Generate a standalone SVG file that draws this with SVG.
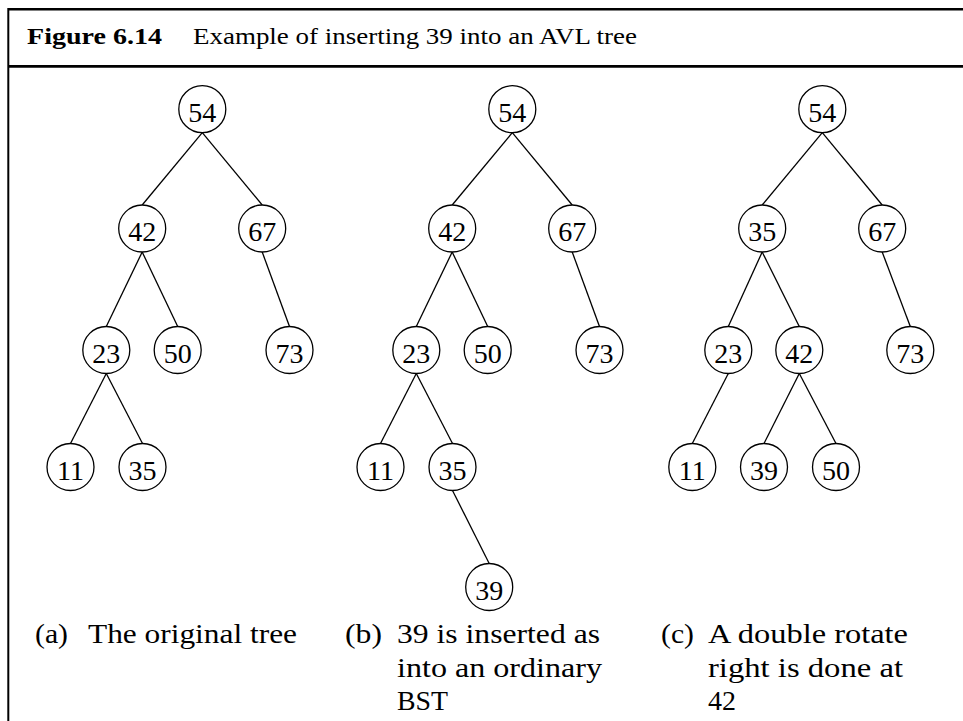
<svg xmlns="http://www.w3.org/2000/svg" width="963" height="721" viewBox="0 0 963 721" font-family="'Liberation Serif', 'Times New Roman', Times, serif">
  <style>
    .frame { stroke: #000; fill: none; }
    .node circle { fill: #fff; stroke: #000; stroke-width: 1.3; }
    .node text { font-size: 28px; text-anchor: middle; fill: #000; }
    .edges line { stroke: #000; stroke-width: 1.3; }
    .title { font-size: 24px; fill: #000; }
    .title-b { font-weight: bold; }
    .cap { font-size: 28px; fill: #000; }
  </style>

  <!-- figure frame: top rule, rule under the title, left side -->
  <g id="frame">
    <line class="frame" x1="8.3" y1="9.3" x2="963" y2="9.3" stroke-width="2.4"/>
    <line class="frame" x1="8.3" y1="66.3" x2="963" y2="66.3" stroke-width="2.7"/>
    <line class="frame" x1="8.3" y1="8.1" x2="8.3" y2="721" stroke-width="2"/>
  </g>

  <g id="title" font-family="'Liberation Serif', 'Times New Roman', Times, serif">
    <text class="title title-b" x="27" y="44" textLength="135" lengthAdjust="spacingAndGlyphs" font-family="Liberation Serif">Figure 6.14</text>
    <text class="title" x="193" y="44" textLength="444" lengthAdjust="spacingAndGlyphs" font-family="Liberation Serif">Example of inserting 39 into an AVL tree</text>
  </g>

  <!-- connectors: parent bottom to child top, r = 23.5 -->
  <g id="edges" class="edges">
    <!-- tree (a) -->
    <line x1="202.3" y1="132.7" x2="142.2" y2="205"/>
    <line x1="202.3" y1="132.7" x2="262.2" y2="205"/>
    <line x1="142.2" y1="252" x2="106.3" y2="326.5"/>
    <line x1="142.2" y1="252" x2="177.7" y2="326.5"/>
    <line x1="262.2" y1="252" x2="289.5" y2="326.5"/>
    <line x1="106.3" y1="373.5" x2="70.5" y2="443.5"/>
    <line x1="106.3" y1="373.5" x2="142.5" y2="443.5"/>
    <!-- tree (b) -->
    <line x1="512.3" y1="132.7" x2="452.2" y2="205"/>
    <line x1="512.3" y1="132.7" x2="572.2" y2="205"/>
    <line x1="452.2" y1="252" x2="416.3" y2="326.5"/>
    <line x1="452.2" y1="252" x2="487.7" y2="326.5"/>
    <line x1="572.2" y1="252" x2="599.5" y2="326.5"/>
    <line x1="416.3" y1="373.5" x2="380.5" y2="443.5"/>
    <line x1="416.3" y1="373.5" x2="452.5" y2="443.5"/>
    <line x1="452.5" y1="490.5" x2="489.2" y2="563.5"/>
    <!-- tree (c) -->
    <line x1="822.3" y1="132.7" x2="762.2" y2="205"/>
    <line x1="822.3" y1="132.7" x2="882.2" y2="205"/>
    <line x1="762.2" y1="252" x2="728.3" y2="326.5"/>
    <line x1="762.2" y1="252" x2="799.3" y2="326.5"/>
    <line x1="882.2" y1="252" x2="910.3" y2="326.5"/>
    <line x1="728.3" y1="373.5" x2="692.3" y2="443.5"/>
    <line x1="799.3" y1="373.5" x2="764" y2="443.5"/>
    <line x1="799.3" y1="373.5" x2="836" y2="443.5"/>
  </g>

  <!-- tree (a) -->
  <g id="a54" class="node"><circle cx="202.3" cy="109.2" r="23.5"/><text x="202.3" y="121.7">54</text></g>
  <g id="a42" class="node"><circle cx="142.2" cy="228.5" r="23.5"/><text x="142.2" y="241">42</text></g>
  <g id="a67" class="node"><circle cx="262.2" cy="228.5" r="23.5"/><text x="262.2" y="241">67</text></g>
  <g id="a23" class="node"><circle cx="106.3" cy="350" r="23.5"/><text x="106.3" y="362.5">23</text></g>
  <g id="a50" class="node"><circle cx="177.7" cy="350" r="23.5"/><text x="177.7" y="362.5">50</text></g>
  <g id="a73" class="node"><circle cx="289.5" cy="350" r="23.5"/><text x="289.5" y="362.5">73</text></g>
  <g id="a11" class="node"><circle cx="70.5" cy="467" r="23.5"/><text x="70.5" y="479.5">11</text></g>
  <g id="a35" class="node"><circle cx="142.5" cy="467" r="23.5"/><text x="142.5" y="479.5">35</text></g>

  <!-- tree (b) -->
  <g id="b54" class="node"><circle cx="512.3" cy="109.2" r="23.5"/><text x="512.3" y="121.7">54</text></g>
  <g id="b42" class="node"><circle cx="452.2" cy="228.5" r="23.5"/><text x="452.2" y="241">42</text></g>
  <g id="b67" class="node"><circle cx="572.2" cy="228.5" r="23.5"/><text x="572.2" y="241">67</text></g>
  <g id="b23" class="node"><circle cx="416.3" cy="350" r="23.5"/><text x="416.3" y="362.5">23</text></g>
  <g id="b50" class="node"><circle cx="487.7" cy="350" r="23.5"/><text x="487.7" y="362.5">50</text></g>
  <g id="b73" class="node"><circle cx="599.5" cy="350" r="23.5"/><text x="599.5" y="362.5">73</text></g>
  <g id="b11" class="node"><circle cx="380.5" cy="467" r="23.5"/><text x="380.5" y="479.5">11</text></g>
  <g id="b35" class="node"><circle cx="452.5" cy="467" r="23.5"/><text x="452.5" y="479.5">35</text></g>
  <g id="b39" class="node"><circle cx="489.2" cy="587" r="23.5"/><text x="489.2" y="599.5">39</text></g>

  <!-- tree (c) -->
  <g id="c54" class="node"><circle cx="822.3" cy="109.2" r="23.5"/><text x="822.3" y="121.7">54</text></g>
  <g id="c35" class="node"><circle cx="762.2" cy="228.5" r="23.5"/><text x="762.2" y="241">35</text></g>
  <g id="c67" class="node"><circle cx="882.2" cy="228.5" r="23.5"/><text x="882.2" y="241">67</text></g>
  <g id="c23" class="node"><circle cx="728.3" cy="350" r="23.5"/><text x="728.3" y="362.5">23</text></g>
  <g id="c42" class="node"><circle cx="799.3" cy="350" r="23.5"/><text x="799.3" y="362.5">42</text></g>
  <g id="c73" class="node"><circle cx="910.3" cy="350" r="23.5"/><text x="910.3" y="362.5">73</text></g>
  <g id="c11" class="node"><circle cx="692.3" cy="467" r="23.5"/><text x="692.3" y="479.5">11</text></g>
  <g id="c39" class="node"><circle cx="764" cy="467" r="23.5"/><text x="764" y="479.5">39</text></g>
  <g id="c50" class="node"><circle cx="836" cy="467" r="23.5"/><text x="836" y="479.5">50</text></g>

  <!-- sub-captions -->
  <g id="captions">
    <text class="cap" x="35" y="643" textLength="33" lengthAdjust="spacingAndGlyphs">(a)</text>
    <text class="cap" x="88" y="643" textLength="209" lengthAdjust="spacingAndGlyphs">The original tree</text>

    <text class="cap" x="345" y="643" textLength="37" lengthAdjust="spacingAndGlyphs">(b)</text>
    <text class="cap" x="397" y="643" textLength="203" lengthAdjust="spacingAndGlyphs">39 is inserted as</text>
    <text class="cap" x="397" y="676.5" textLength="205" lengthAdjust="spacingAndGlyphs">into an ordinary</text>
    <text class="cap" x="397" y="710" textLength="51" lengthAdjust="spacingAndGlyphs">BST</text>

    <text class="cap" x="661" y="643" textLength="33" lengthAdjust="spacingAndGlyphs">(c)</text>
    <text class="cap" x="708" y="643" textLength="200" lengthAdjust="spacingAndGlyphs">A double rotate</text>
    <text class="cap" x="708" y="676.5" textLength="195" lengthAdjust="spacingAndGlyphs">right is done at</text>
    <text class="cap" x="708" y="710">42</text>
  </g>
</svg>
